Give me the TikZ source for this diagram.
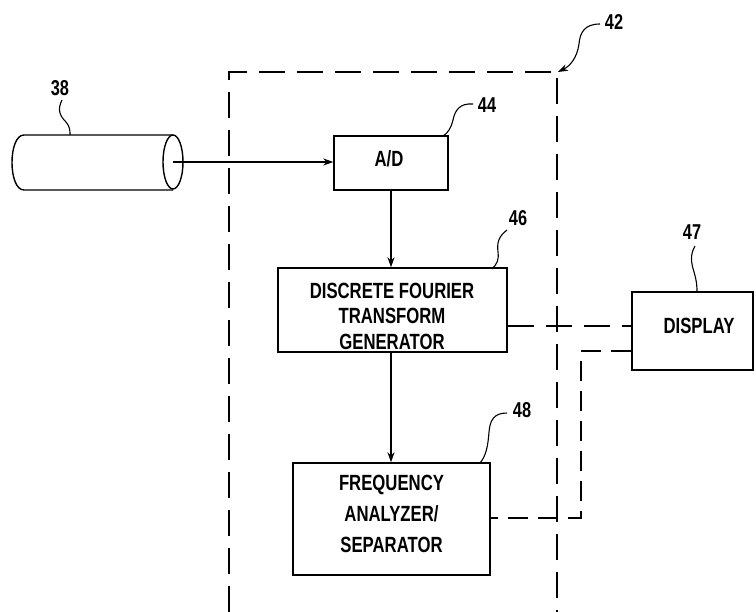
\documentclass[tikz,border=0pt]{standalone}
\usepackage{fontspec}
\setmainfont{Liberation Sans}[FakeStretch=0.76]
\usetikzlibrary{arrows.meta}
\begin{document}
\begin{tikzpicture}[x=1pt,y=-1pt,
  line width=1.3pt,
  blk/.style={draw,line width=1.4pt,inner sep=0pt},
  txt/.style={align=center,font=\fontsize{22}{25.5}\selectfont\bfseries,inner sep=0pt},
  lbl/.style={font=\fontsize{21.5}{22}\selectfont\bfseries,inner sep=1pt},
  dsh/.style={dash pattern=on 26pt off 12pt,line width=1.3pt},
  arr/.style={-{Stealth[length=10pt,width=7pt]}},
  lead/.style={line width=1.1pt}]
\useasboundingbox (0,0) rectangle (756,612);
% outer dashed box (open at bottom)
\coordinate (bl) at (229,612);
\coordinate (tl) at (229,72);
\coordinate (tr) at (557,72);
\coordinate (br) at (557,612);
\draw[dsh] (bl) -- (tl) -- (tr) -- (br);
% cylinder
\draw[line width=1.4pt] (173,135) -- (24,135) .. controls (8,135) and (8,190) .. (24,190) -- (173,190);
\draw[line width=1.4pt] (173,162) ellipse [x radius=10, y radius=27];
\coordinate (cyl) at (173,162);
% blocks
\node[blk,minimum width=114pt,minimum height=54pt] (ad) at (391,163) {};
\node[txt] (adt) at (389,159) {A/D};
\node[blk,minimum width=229pt,minimum height=84pt] (dft) at (392.5,310) {};
\node[txt] (dftt) at (392,316) {DISCRETE FOURIER\\TRANSFORM\\GENERATOR};
\node[blk,minimum width=197pt,minimum height=112pt] (fa) at (391.5,519) {};
\node[txt,font=\fontsize{22}{31}\selectfont\bfseries] (fat) at (391.5,514) {FREQUENCY\\ANALYZER/\\SEPARATOR};
\node[blk,minimum width=121pt,minimum height=78pt] (disp) at (692.5,331) {};
\node[txt] (dispt) at (699,326) {DISPLAY};
% arrows
\draw[arr] (cyl) -- (ad.west |- cyl);
\draw[arr] (ad.south) -- (dft.north -| ad.south);
\draw[arr] (dft.south -| ad.south) -- (fa.north -| ad.south);
% dashed connections
\draw[dsh] (dft.east |- 0,326) -- (disp.west |- 0,326);
\coordinate (k1) at (581,351);
\coordinate (k2) at (581,518);
\draw[dsh,dash pattern=on 20pt off 10pt] (disp.west |- k1) -- (k1) -- (k2) -- (fa.east |- k2);
% labels and leaders
\node[lbl] (l38) at (60,88) {38};
\draw[lead] (62,100) .. controls (57,110) and (60,116) .. (66,122) .. controls (70,127) and (70,130) .. (70,135);
\node[lbl] (l44) at (487,105) {44};
\draw[lead] (473,104) .. controls (460,103) and (455,110) .. (453,120) .. controls (451,128) and (448,133) .. (443,136);
\node[lbl] (l46) at (518,218) {46};
\draw[lead] (507,230) .. controls (498,237) and (497,243) .. (498,252) .. controls (499,260) and (497,264) .. (492,269);
\node[lbl] (l47) at (692,232) {47};
\draw[lead] (695,246) .. controls (690,255) and (691,262) .. (694,272) .. controls (697,282) and (697,288) .. (697,292);
\node[lbl] (l48) at (522,410) {48};
\draw[lead] (507,413) .. controls (494,413) and (490,420) .. (489,432) .. controls (488,446) and (486,456) .. (480,463);
\node[lbl] (l42) at (614,22) {42};
\draw[lead,-{Stealth[length=10pt,width=7pt]}] (600,24) .. controls (585,24) and (580,32) .. (579,44) .. controls (577,58) and (570,66) .. (558,72);
\end{tikzpicture}
\end{document}
